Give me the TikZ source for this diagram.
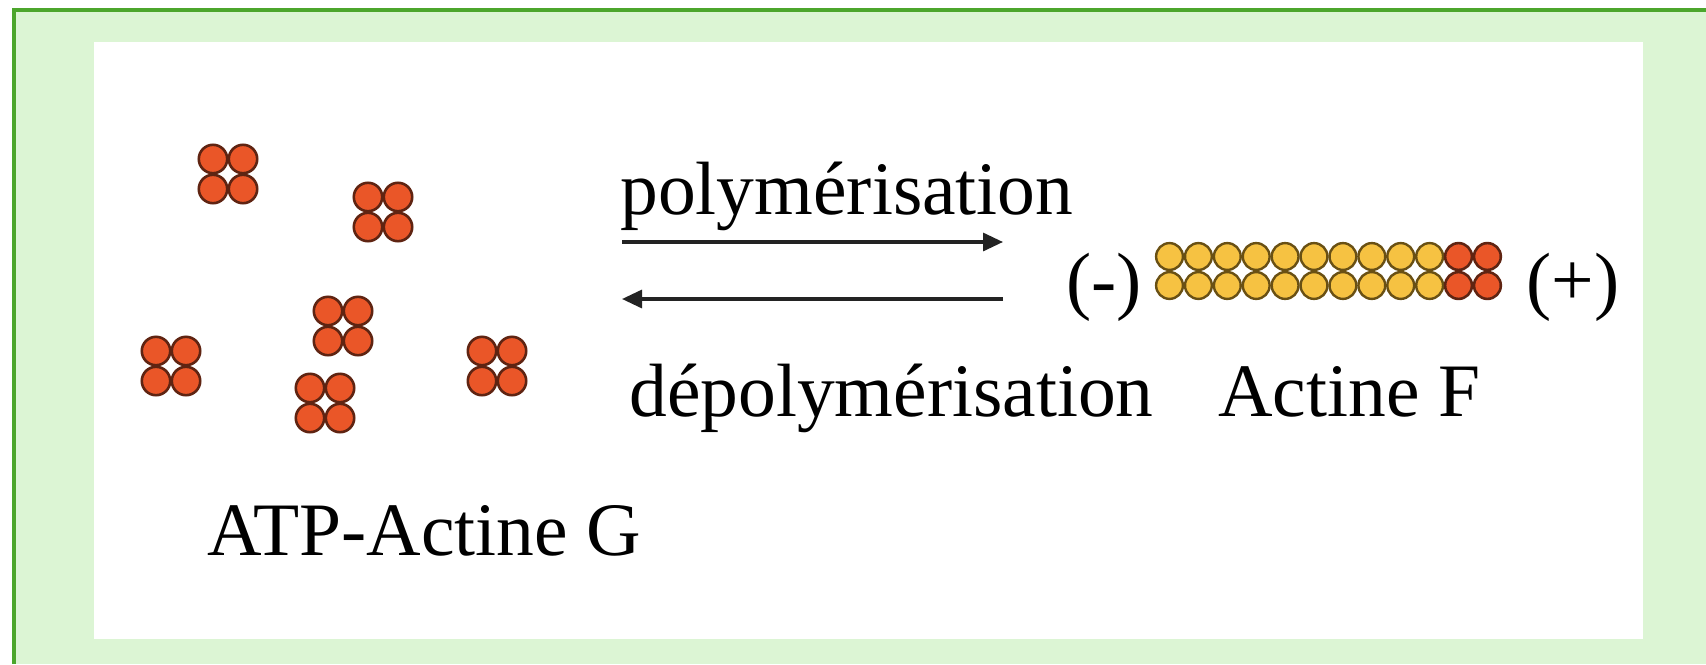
\documentclass[tikz,border=0pt]{standalone}
\usepackage{fontspec}
\setmainfont{Liberation Serif}
\usetikzlibrary{arrows.meta}
\definecolor{framegreen}{RGB}{76,166,44}
\definecolor{panelgreen}{RGB}{220,245,212}
\definecolor{gfill}{RGB}{234,86,40}
\definecolor{gline}{RGB}{95,36,18}
\definecolor{ffill}{RGB}{246,194,66}
\definecolor{fline}{RGB}{105,80,20}
\definecolor{inkgray}{RGB}{35,35,35}
\begin{document}
\begin{tikzpicture}[x=0.5pt,y=-0.5pt,
  lbl/.style={inner sep=0pt,anchor=base west,font=\fontsize{37.75}{40}\selectfont,text=black},
  rxn/.style={draw=inkgray,line width=1.6pt,-{Triangle[length=10pt,width=9pt]}},
  gmono/.style={fill=gfill,draw=gline,line width=1.3pt},
  fmono/.style={fill=ffill,draw=fline,line width=1.2pt},
  gactin/.pic={
    \foreach \dx in {-15,15}
      \foreach \dy in {-15,15}
        \path[gmono] (\dx,\dy) circle[radius=7.1pt];
  }]
\useasboundingbox (0,0) rectangle (1706,664);
% frame: green rule on top and left, pale green panel, white card
\fill[white] (0,0) rectangle (1706,664);
\fill[framegreen] (12,8) rectangle (1706,664);
\fill[panelgreen] (16,12) rectangle (1706,664);
\fill[white] (94,42) rectangle (1643,639);

% free G-actin monomers
\pic at (228,174) {gactin};
\pic at (383,212) {gactin};
\pic at (343,326) {gactin};
\pic at (171,366) {gactin};
\pic at (325,403) {gactin};
\pic at (497,366) {gactin};
\node[lbl] (atpG) at (207,555) {ATP-Actine G};

% reaction arrows
\coordinate (polyL) at (622,242);
\coordinate (polyR) at (1003,242);
\coordinate (depolyL) at (622,299);
\coordinate (depolyR) at (1003,299);
\draw[rxn] (polyL) -- (polyR);
\draw[rxn] (depolyR) -- (depolyL);
\node[lbl] (poly) at (620,214) {polymérisation};
\node[lbl] (depoly) at (629,416) {dépolymérisation};

% F-actin filament: ten ADP columns, two ATP columns at the plus end
\foreach \i in {0,...,11} {
  \pgfmathsetmacro{\cx}{1169.5+28.9*\i}
  \ifnum\i<10
    \path[fmono] (\cx,256.5) circle[radius=6.7pt];
    \path[fmono] (\cx,285.5) circle[radius=6.7pt];
  \else
    \path[gmono] (\cx,256.5) circle[radius=6.7pt];
    \path[gmono] (\cx,285.5) circle[radius=6.7pt];
  \fi
}
\node[lbl] (minus) at (1066,305) {(-)};
\node[lbl] (plus) at (1526,305) {(+)};
\node[lbl] (actF) at (1218,416) {Actine F};
\end{tikzpicture}
\end{document}
